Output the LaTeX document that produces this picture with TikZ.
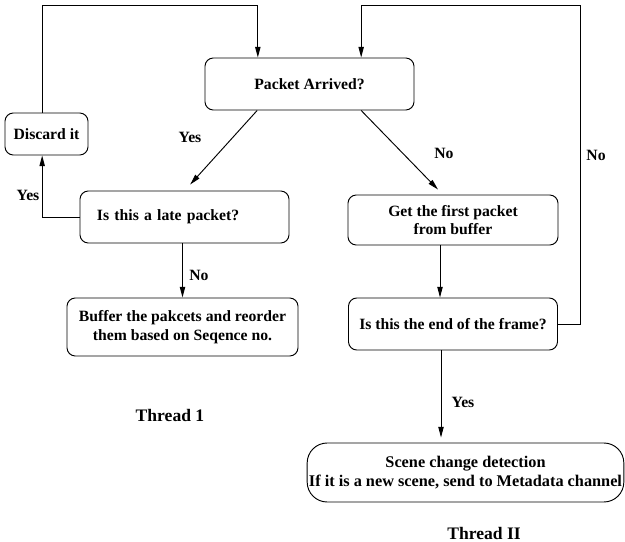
\documentclass[tikz,border=0pt]{standalone}
\usepackage{fontspec}
\setmainfont{Liberation Serif}
\usetikzlibrary{arrows.meta, positioning, calc}

\begin{document}
\begin{tikzpicture}[
    x=0.03cm, y=-0.03cm,
    >={Triangle[length=3.2mm, width=1.6mm]},
    arr/.style={->, line width=0.8pt},
    lbl/.style={font=\fontsize{13.4}{16}\selectfont\bfseries},
    box/.style={draw, line width=0.8pt, rounded corners=0.25cm, align=center, inner sep=2pt,
        font=\fontsize{13.4}{16}\selectfont\bfseries, minimum width=6.27cm, minimum height=1.56cm},
    ttl/.style={font=\fontsize{15}{18}\selectfont\bfseries, anchor=base},
]
\useasboundingbox (0,0) rectangle (625,542);
% === THREAD 1: receive and buffer ===
\node[box] (pa) at (309.5,84) {Packet Arrived?};
\node[box, minimum width=2.49cm, minimum height=1.26cm] (disc) at (46.5,134) {Discard it};
\node[box, text width=5.25cm, align=left, inner xsep=0.51cm] (lp) at (184.5,217) {Is this a late packet?};
\node[box, minimum width=6.93cm, minimum height=1.74cm] (bf) at (182.5,327) {Buffer the pakcets and reorder\\them based on Seqence no.};
\node[ttl] (t1) at (170,421) {Thread 1};
%
\draw[arr] ([xshift=-1.57cm]pa.south) -- ([xshift=0.17cm, yshift=0.18cm]lp.north);
\node[lbl] at (190,137) {Yes};
\draw[arr] (lp.west) -| ([xshift=-0.13cm]disc.south);
\node[lbl] at (28,195) {Yes};
\draw[arr] (disc.north) ++(-0.13cm,0) coordinate (d1) -- (d1 |- 0,5) -| ([xshift=-1.55cm]pa.north);
\draw[arr] (lp.south -| bf.north) -- (bf.north);
\node[lbl] at (199,275) {No};
% === THREAD II: read buffer ===
\node[box, minimum width=6.3cm, minimum height=1.5cm] (gf) at (453,220) {Get the first packet\\from buffer};
\node[box] (ef) at (453,324) {Is this the end of the frame?};
\node[box, minimum width=9.5cm, minimum height=1.77cm, inner sep=1pt, rounded corners=0.6cm,
    font=\fontsize{13.9}{16.5}\selectfont\bfseries] (sc) at (465.5,472.5)
    {Scene change detection\\If it is a new scene, send to Metadata channel};
\node[ttl] (t2) at (484,539) {Thread II};
%
\draw[arr] ([xshift=1.55cm]pa.south) -- ([xshift=-0.45cm, yshift=0.15cm]gf.north);
\node[lbl] at (444,153) {No};
\draw[arr] ([xshift=-0.39cm]gf.south) coordinate (g1) -- (g1 |- ef.north);
\coordinate (rtop) at (580,5);
\draw[arr] (ef.east) -| (rtop) -| ([xshift=1.55cm]pa.north);
\node[lbl] at (596,155) {No};
\draw[arr] ([xshift=-0.36cm]ef.south) coordinate (e1) -- ([yshift=0.15cm]e1 |- sc.north);
\node[lbl] at (463,402) {Yes};
\end{tikzpicture}
\end{document}
